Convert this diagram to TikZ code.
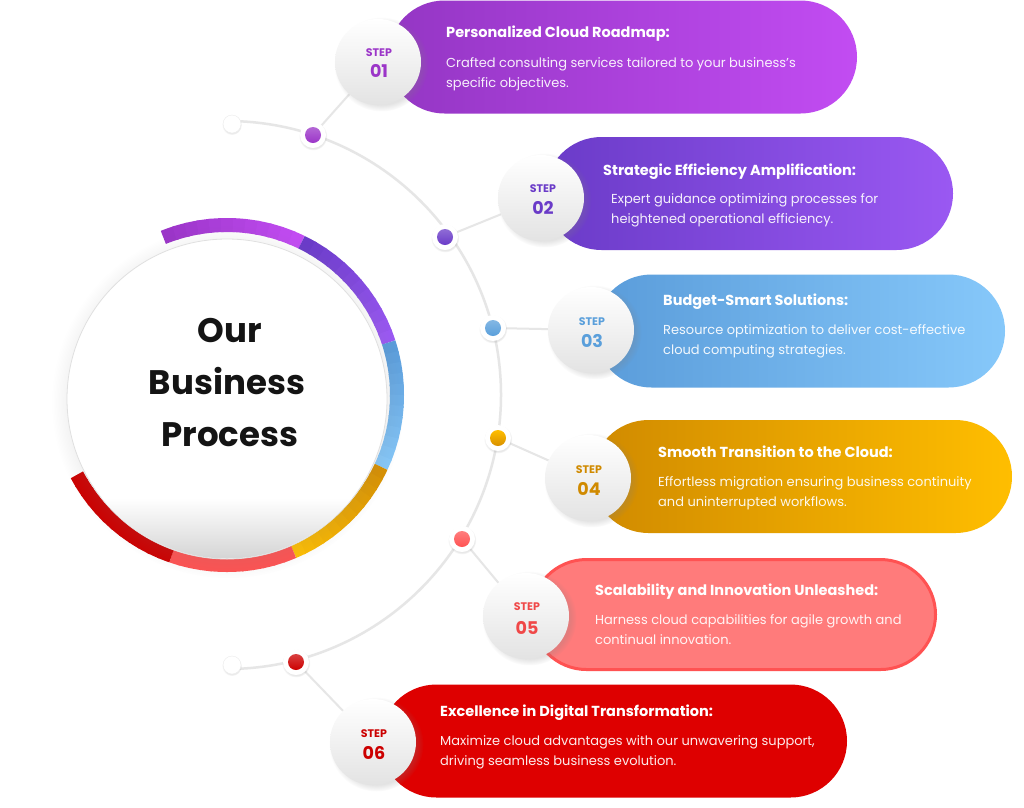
\documentclass[tikz,border=0pt]{standalone}
\usepackage{fontspec}
\setmainfont{Poppins}
\usetikzlibrary{shadows,shapes.misc}
\definecolor{pA}{HTML}{9436C4}\definecolor{pAr}{HTML}{C24CF2}
\definecolor{pB}{HTML}{6A3BC8}\definecolor{pBr}{HTML}{9A58F2}
\definecolor{pC}{HTML}{5A9CDA}\definecolor{pCr}{HTML}{86C8FA}
\definecolor{pD}{HTML}{D08A00}\definecolor{pDr}{HTML}{FFBE00}
\definecolor{pE}{HTML}{FF7B7B}\definecolor{pEb}{HTML}{FF5252}
\definecolor{pF}{HTML}{DE0000}
\definecolor{gA}{HTML}{D89000}
\definecolor{gB}{HTML}{E8A000}
\definecolor{sA}{HTML}{9B35C8}\definecolor{sB}{HTML}{6A3BC8}
\definecolor{sC}{HTML}{5A9FDB}\definecolor{sD}{HTML}{D08A00}
\definecolor{sE}{HTML}{F04848}\definecolor{sF}{HTML}{CC0000}
\definecolor{lineg}{HTML}{E6E6E6}
\pgfdeclarelayer{bg}\pgfsetlayers{bg,main}
\newcommand\ringseg[4]{%
  \foreach \k in {0,...,11}{%
    \pgfmathsetmacro\sa{-(#1+(#2-#1)*\k/12)}%
    \pgfmathsetmacro\sb{-(#1+(#2-#1)*min(\k+1.2,12)/12)}%
    \pgfmathtruncatemacro\pp{100-\k*100/11}%
    \draw[line width=14pt, draw=#3!\pp!#4] (227,395) ++(\sa:170) arc[start angle=\sa, end angle=\sb, radius=170];
  }}
\tikzset{
  pill/.style={rounded rectangle, minimum height=113, inner sep=0, draw=none},
  stepcirc/.style={circle, minimum size=86, inner sep=0, top color=white, bottom color=black!11,
     circular drop shadow={shadow xshift=3pt, shadow yshift=-2pt, opacity=0.22}},
  steplbl/.style={anchor=base, inner sep=0, font=\fontsize{11}{13}\selectfont\bfseries},
  stepnum/.style={anchor=base, inner sep=0, font=\fontsize{17.5}{20}\selectfont\bfseries},
  ttl/.style={anchor=base west, inner sep=0, text=white, font=\fontsize{14.5}{17}\selectfont\bfseries},
  bdy/.style={anchor=base west, inner sep=0, text=white, text opacity=0.92, font=\fontsize{13}{15}\selectfont},
  big/.style={anchor=base, inner sep=0, text=black!92, font=\fontsize{34}{38}\selectfont\bfseries},
  dotring/.style={circle, minimum size=26, inner sep=0, fill=white,
     circular drop shadow={shadow xshift=0pt, shadow yshift=-1pt, opacity=0.18}},
  dotin/.style={circle, minimum size=16, inner sep=0, top color=#1!75!white, bottom color=#1},
  enddot/.style={circle, minimum size=18, inner sep=0, fill=white, draw=black!8,
     circular drop shadow={shadow xshift=0pt, shadow yshift=-1pt, opacity=0.15}},
  tl/.style={draw=lineg, line width=2.5pt},
  conn/.style={draw=lineg, line width=2pt},
}
\begin{document}
\begin{tikzpicture}[x=1pt,y=-1pt]
\useasboundingbox (0,0) rectangle (1024,807);

% central ring
\ringseg{112}{64}{sA}{pAr}
\ringseg{64}{18}{pB}{pBr}
\ringseg{18}{-25}{pC}{pCr}
\ringseg{-25}{-67}{gA}{pDr}
\ringseg{-67}{-109}{pEb}{pEb}
\ringseg{-109}{-152}{sF}{sF}

\node[circle, minimum size=320, inner sep=0, fill=white, draw=black!12, line width=0.8pt,
      circular drop shadow={shadow xshift=1pt, shadow yshift=-3pt, opacity=0.15}] (hub) at (227,399) {};
\begin{scope}
  \clip (227,399) circle[radius=159.5];
  \shade[top color=white, bottom color=black!17] (60,498) rectangle (400,560);
\end{scope}
\node[big] (h1) at (230,342) {Our};
\node[big] (h2) at (227,394) {Business};
\node[big] (h3) at (230,446) {Process};

% pills
\node[pill, minimum width=469, left color=pA, right color=pAr] (p1) at (622.5,57) {};
\node[pill, minimum width=408, left color=pB, right color=pBr] (p2) at (749,193.5) {};
\node[pill, minimum width=410, left color=pC, right color=pCr] (p3) at (800,331) {};
\node[pill, minimum width=420, left color=pD, right color=pDr] (p4) at (802,476.5) {};
\node[pill, minimum width=404, minimum height=110, fill=pE, draw=pEb, line width=3pt] (p5) at (733.5,614.5) {};
\node[pill, minimum width=467, fill=pF] (p6) at (613.5,741) {};

% pill texts
\node[ttl] (t1) at (446,37) {Personalized Cloud Roadmap:};
\node[bdy] (b1a) at (446,67) {Crafted consulting services tailored to your business's};
\node[bdy] (b1b) at (446,87) {specific objectives.};
\node[ttl] (t2) at (603,175) {Strategic Efficiency Amplification:};
\node[bdy] (b2a) at (611,203) {Expert guidance optimizing processes for};
\node[bdy] (b2b) at (611,223) {heightened operational efficiency.};
\node[ttl] (t3) at (663,305) {Budget-Smart Solutions:};
\node[bdy] (b3a) at (663,334) {Resource optimization to deliver cost-effective};
\node[bdy] (b3b) at (663,354) {cloud computing strategies.};
\node[ttl] (t4) at (658,457) {Smooth Transition to the Cloud:};
\node[bdy] (b4a) at (658,486) {Effortless migration ensuring business continuity};
\node[bdy] (b4b) at (658,506) {and uninterrupted workflows.};
\node[ttl] (t5) at (595,595) {Scalability and Innovation Unleashed:};
\node[bdy] (b5a) at (595,624) {Harness cloud capabilities for agile growth and};
\node[bdy] (b5b) at (595,644) {continual innovation.};
\node[ttl] (t6) at (440,716) {Excellence in Digital Transformation:};
\node[bdy] (b6a) at (440,745) {Maximize cloud advantages with our unwavering support,};
\node[bdy] (b6b) at (440,765) {driving seamless business evolution.};

% step circles
\node[stepcirc] (s1) at (378,62) {};
\node[stepcirc] (s2) at (541,198) {};
\node[stepcirc] (s3) at (591,330) {};
\node[stepcirc] (s4) at (588,478) {};
\node[stepcirc] (s5) at (526,616) {};
\node[stepcirc] (s6) at (373,742) {};
\node[steplbl, text=sA] (l1) at (379,56) {STEP};
\node[stepnum, text=sA] (n1) at (379,77) {01};
\node[steplbl, text=sB] (l2) at (543,192) {STEP};
\node[stepnum, text=sB] (n2) at (543,214) {02};
\node[steplbl, text=sC] (l3) at (592,325) {STEP};
\node[stepnum, text=sC] (n3) at (592,347) {03};
\node[steplbl, text=sD] (l4) at (589,473) {STEP};
\node[stepnum, text=sD] (n4) at (589,495) {04};
\node[steplbl, text=sE] (l5) at (527,610) {STEP};
\node[stepnum, text=sE] (n5) at (527,634) {05};
\node[steplbl, text=sF] (l6) at (374,737) {STEP};
\node[stepnum, text=sF] (n6) at (374,759) {06};

% timeline dots
\node[enddot] (e1) at (232,124) {};
\node[enddot] (e2) at (232,665) {};
\node[dotring] (r1) at (313,135) {};
\node[dotring] (r2) at (445,237) {};
\node[dotring] (r3) at (493,328) {};
\node[dotring] (r4) at (498,438) {};
\node[dotring] (r5) at (462,539) {};
\node[dotring] (r6) at (296,662) {};
\node[dotin=sA] (d1) at (r1) {};
\node[dotin=sB] (d2) at (r2) {};
\node[dotin=sC] (d3) at (r3) {};
\node[circle, minimum size=16, inner sep=0, top color=pDr, bottom color=gA] (d4) at (r4) {};
\node[dotin={pEb}] (d5) at (r5) {};
\node[dotin=sF] (d6) at (r6) {};

\begin{pgfonlayer}{bg}
  \fill[white] (0,0) rectangle (1024,807);
  \draw[tl] (227,395) ++(-89:274) arc[start angle=-89, end angle=89, radius=274];
  \draw[conn] (r1) -- (s1);
  \draw[conn] (r2) -- (s2);
  \draw[conn] (r3) -- (s3);
  \draw[conn] (r4) -- (s4);
  \draw[conn] (r5) -- (s5);
  \draw[conn] (r6) -- (s6);
\end{pgfonlayer}
\end{tikzpicture}
\end{document}
